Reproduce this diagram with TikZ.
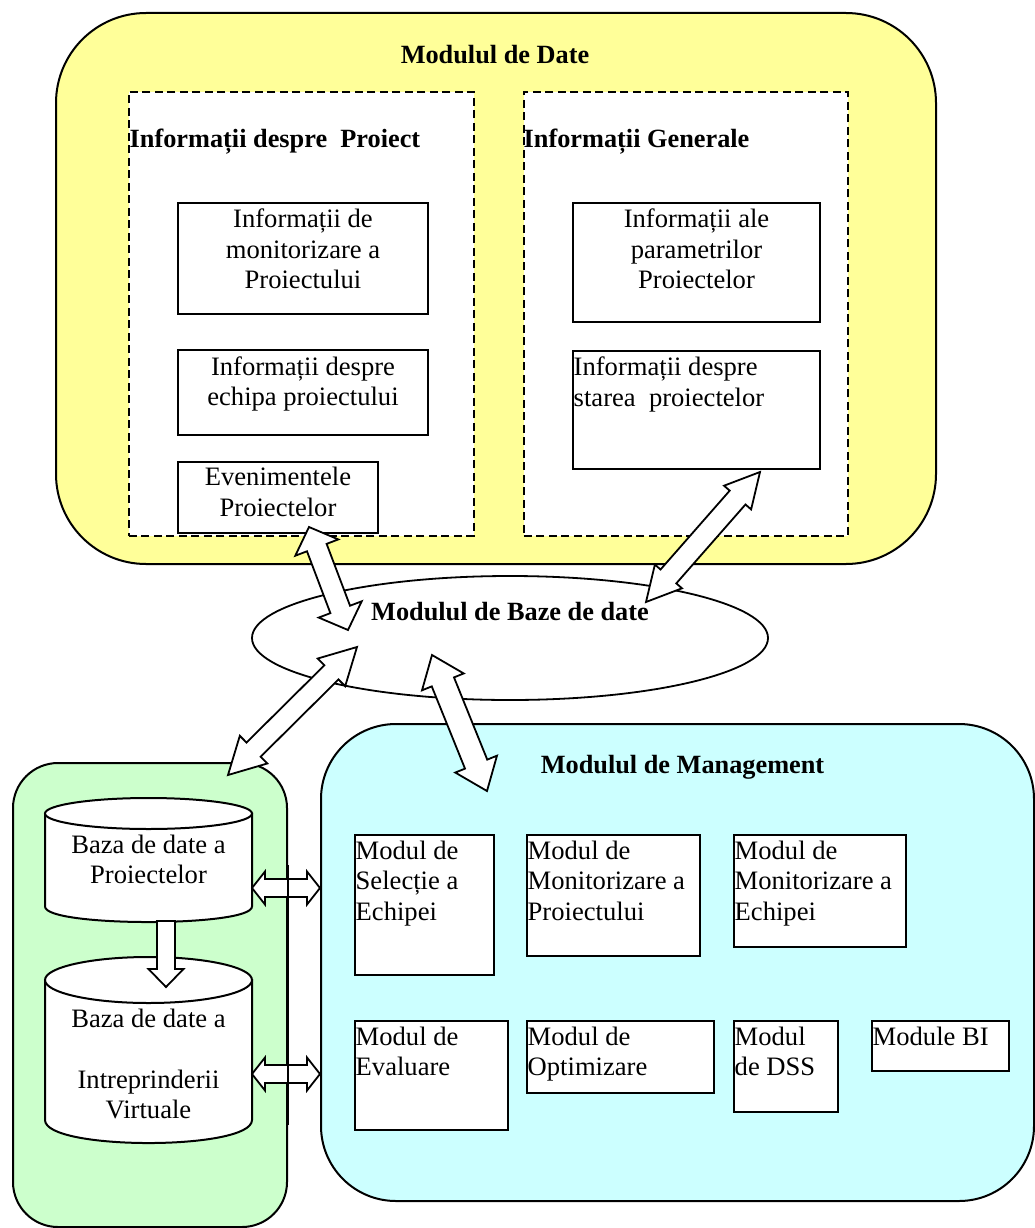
\documentclass[tikz,border=0pt]{standalone}
\usepackage{fontspec}
\setmainfont{Liberation Serif}
\usetikzlibrary{calc,shapes.geometric}

\definecolor{datafill}{HTML}{FFFF99}
\definecolor{vefill}{HTML}{CCFFCC}
\definecolor{mgmtfill}{HTML}{CCFFFF}

\tikzset{
  outline/.style={draw=black,line width=2pt},
  modbox/.style={outline,rounded corners=#1,inner sep=0pt,anchor=north west},
  dashgroup/.style={draw=black,line width=1.8pt,dash pattern=on 8pt off 4.5pt,fill=white,inner sep=0pt,anchor=north west},
  infobox/.style={outline,fill=white,inner sep=0pt,anchor=north west},
  txt/.style={font=\fontsize{26.6}{30.5}\selectfont,inner sep=0pt},
  headtxt/.style={font=\fontsize{26.3}{30.5}\selectfont\bfseries,inner sep=0pt},
  blockarrow/.style={draw=black,line width=1.8pt,fill=white,line join=miter},
}

% block arrow with a head at both ends:
% #1,#2 tips, #3 prefix, #4 head length, #5 head half-width, #6 shaft half-width
\newcommand{\twowayarrow}[6]{%
  \path ($(#1)!#4!(#2)$) coordinate (#3-p) ($(#2)!#4!(#1)$) coordinate (#3-q);
  \draw[blockarrow] (#1)
    -- ($(#3-p)!#5!90:(#1)$) -- ($(#3-p)!#6!90:(#1)$)
    -- ($(#3-q)!#6!-90:(#2)$) -- ($(#3-q)!#5!-90:(#2)$)
    -- (#2)
    -- ($(#3-q)!#5!90:(#2)$) -- ($(#3-q)!#6!90:(#2)$)
    -- ($(#3-p)!#6!-90:(#1)$) -- ($(#3-p)!#5!-90:(#1)$)
    -- cycle;
}
% block arrow with one head: #1 tail, #2 tip
\newcommand{\onewayarrow}[6]{%
  \path ($(#2)!#4!(#1)$) coordinate (#3-q);
  \draw[blockarrow] ($(#1)!#6!90:(#2)$)
    -- ($(#3-q)!#6!90:(#2)$) -- ($(#3-q)!#5!90:(#2)$)
    -- (#2)
    -- ($(#3-q)!#5!-90:(#2)$) -- ($(#3-q)!#6!-90:(#2)$)
    -- ($(#1)!#6!-90:(#2)$) -- cycle;
}

\begin{document}
\begin{tikzpicture}[x=1pt,y=-1pt]
\path[fill=white,use as bounding box] (0,0) rectangle (1034,1228);

% ---------- data module ----------
\node[modbox=90pt,fill=datafill,minimum width=880pt,minimum height=551pt] (datamod) at (55,12) {};
\node[dashgroup,minimum width=345pt,minimum height=444pt] (projinfo) at (128,91) {};
\node[dashgroup,minimum width=324pt,minimum height=444pt] (geninfo) at (523,91) {};

\node[infobox,minimum width=250pt,minimum height=111pt] (pmon) at (177,202) {};
\node[infobox,minimum width=250pt,minimum height=85pt] (pteam) at (177,349) {};
\node[infobox,minimum width=200pt,minimum height=71pt] (pevt) at (177,461) {};
\node[infobox,minimum width=247pt,minimum height=119pt] (gparam) at (572,202) {};
\node[infobox,minimum width=247pt,minimum height=118pt] (gstate) at (572,350) {};

\node[txt,align=center,anchor=north] (pmon-t) at ($(pmon.north)+(0,4)$) {\strut Informații de\\monitorizare a\\Proiectului};
\node[txt,align=center,anchor=north] (pteam-t) at ($(pteam.north)+(0,4.5)$) {\strut Informații despre\\echipa proiectului};
\node[txt,align=center,anchor=north] (pevt-t) at ($(pevt.north)+(0,3)$) {\strut Evenimentele\\Proiectelor};
\node[txt,align=center,anchor=north] (gparam-t) at ($(gparam.north)+(0,4)$) {\strut Informații ale\\parametrilor\\Proiectelor};
\node[txt,align=left,anchor=north west] (gstate-t) at ($(gstate.north west)+(1.5,4)$) {\strut Informații despre\\starea\ \ proiectelor};

\node[headtxt,anchor=base] (datamod-t) at (495,64) {Modulul de Date};
\node[headtxt,anchor=base west] (projinfo-t) at (129.5,147) {Informații despre\ \ Proiect};
\node[headtxt,anchor=base west] (geninfo-t) at (523.5,147) {Informații Generale};

% ---------- database module ----------
\node[ellipse,draw=black,line width=1.8pt,fill=white,minimum width=516pt,minimum height=124pt,inner sep=0pt] (dbmod) at (510,638) {};
\node[headtxt,anchor=base] (dbmod-t) at (510,620) {Modulul de Baze de date};

% ---------- virtual enterprise databases ----------
\node[modbox=45pt,fill=vefill,minimum width=274pt,minimum height=464pt] (vedb) at (12,762) {};

\draw[outline,fill=white] (45,813.5) -- (45,906.5) .. controls (45,927.2) and (252,927.2) .. (252,906.5) -- (252,813.5) -- cycle;
\draw[outline,fill=white] (148.5,813.5) ellipse [x radius=103.5,y radius=15.5];
\node[txt,align=center,anchor=north] (cylA) at (148.5,831.6) {\strut Baza de date a\\Proiectelor};

\draw[outline,fill=white] (45,980) -- (45,1120) .. controls (45,1150.7) and (252,1150.7) .. (252,1120) -- (252,980) -- cycle;
\draw[outline,fill=white] (148.5,980) ellipse [x radius=103.5,y radius=23];
\node[txt,align=center,anchor=north] (cylB) at (148.5,1005.6) {\strut Baza de date a\\\strut\\Intreprinderii\\Virtuale};

% ---------- management module ----------
\node[modbox=75pt,fill=mgmtfill,minimum width=713pt,minimum height=477pt] (mgmt) at (320,723) {};
\node[headtxt,anchor=base] (mgmt-t) at (682.5,773) {Modulul de Management};

\node[infobox,minimum width=139pt,minimum height=140pt] (msel) at (354,834) {};
\node[infobox,minimum width=173pt,minimum height=121pt] (mmonp) at (526,834) {};
\node[infobox,minimum width=172pt,minimum height=112pt] (mmone) at (733,834) {};
\node[infobox,minimum width=153pt,minimum height=109pt] (meval) at (354,1020) {};
\node[infobox,minimum width=187pt,minimum height=72pt] (mopt) at (526,1020) {};
\node[infobox,minimum width=104pt,minimum height=91pt] (mdss) at (733,1020) {};
\node[infobox,minimum width=137pt,minimum height=50pt] (mbi) at (871,1020) {};

\node[txt,align=left,anchor=north west] (msel-t) at ($(msel.north west)+(1.5,3.5)$) {\strut Modul de\\Selecție a\\Echipei};
\node[txt,align=left,anchor=north west] (mmonp-t) at ($(mmonp.north west)+(1.5,3.5)$) {\strut Modul de\\Monitorizare a\\Proiectului};
\node[txt,align=left,anchor=north west] (mmone-t) at ($(mmone.north west)+(1.5,3.5)$) {\strut Modul de\\Monitorizare a\\Echipei};
\node[txt,align=left,anchor=north west] (meval-t) at ($(meval.north west)+(1.5,3.5)$) {\strut Modul de\\Evaluare};
\node[txt,align=left,anchor=north west] (mopt-t) at ($(mopt.north west)+(1.5,3.5)$) {\strut Modul de\\Optimizare};
\node[txt,align=left,anchor=north west] (mdss-t) at ($(mdss.north west)+(1.5,3.5)$) {\strut Modul\\de DSS};
\node[txt,align=left,anchor=north west] (mbi-t) at ($(mbi.north west)+(1.5,3.5)$) {\strut Module BI};

% ---------- connectors ----------
\coordinate (cylA-out) at (252,888);  \coordinate (mgmt-inA) at (320,888);
\coordinate (cylB-out) at (252,1074); \coordinate (mgmt-inB) at (320,1074);
\twowayarrow{cylA-out}{mgmt-inA}{hA}{13pt}{16.5pt}{9pt}
\twowayarrow{cylB-out}{mgmt-inB}{hB}{13pt}{16.5pt}{9pt}
% right border of the database group stays visible across the arrows
\draw[outline] ($(vedb.east)+(0,-130)$) -- ($(vedb.east)+(0,130)$);

\coordinate (cylA-bot) at (166,921); \coordinate (cylB-top) at (166,987);
\onewayarrow{cylA-bot}{cylB-top}{dn}{18pt}{17.5pt}{9pt}

\coordinate (pevt-end) at (309,527);   \coordinate (dbmod-a) at (348,630);
\coordinate (gstate-end) at (760,472); \coordinate (dbmod-b) at (646,602);
\coordinate (dbmod-c) at (357,647);    \coordinate (vedb-end) at (228,775);
\coordinate (dbmod-d) at (432,655);    \coordinate (mgmt-end) at (487,791);
\twowayarrow{pevt-end}{dbmod-a}{da}{22pt}{23pt}{10.5pt}
\twowayarrow{gstate-end}{dbmod-b}{db}{34pt}{18pt}{10.5pt}
\twowayarrow{dbmod-c}{vedb-end}{dc}{36pt}{19.5pt}{10pt}
\twowayarrow{dbmod-d}{mgmt-end}{dd}{29pt}{22.5pt}{12pt}
\end{tikzpicture}
\end{document}
